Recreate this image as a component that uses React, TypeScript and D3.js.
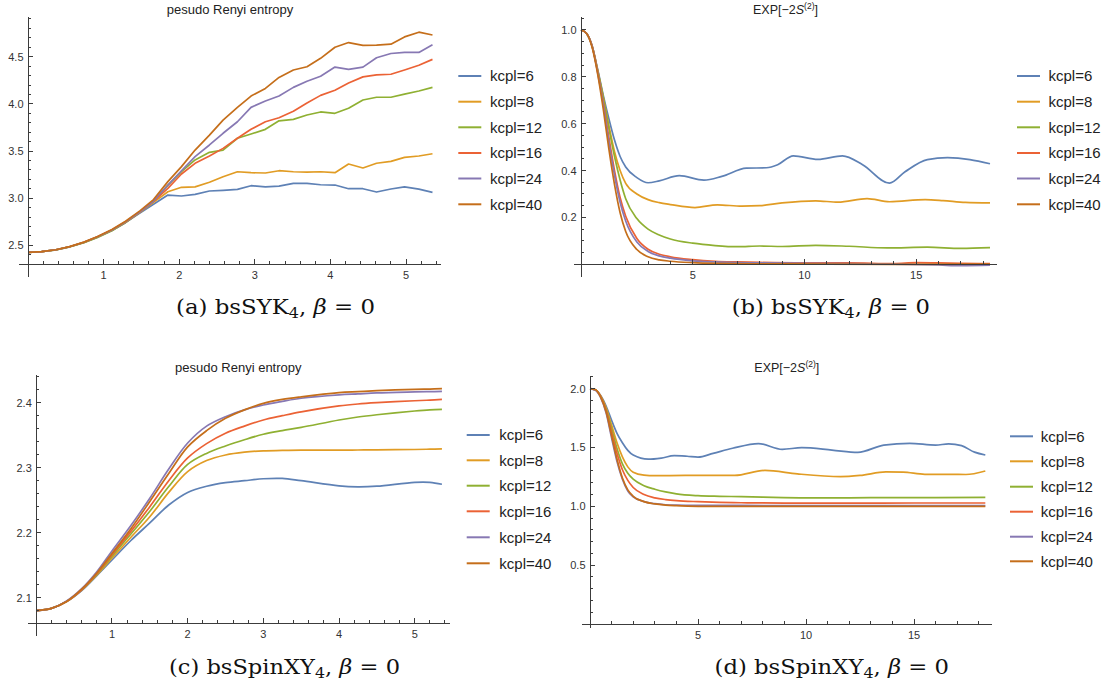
import React from "react";
import * as d3 from "d3";

type Pt = [number, number];

const COLORS = ["#5E81B5", "#E19C24", "#8FB032", "#EB6235", "#8778B3", "#C56E1A"];
const LABELS = ["kcpl=6", "kcpl=8", "kcpl=12", "kcpl=16", "kcpl=24", "kcpl=40"];

// ---------- Panel (a): pseudo Renyi entropy, bsSYK4 ----------
const aT = [0, 0.18, 0.37, 0.55, 0.74, 0.92, 1.11, 1.29, 1.48, 1.66, 1.85, 2.03, 2.21, 2.4, 2.58, 2.77, 2.95, 3.14, 3.32, 3.51, 3.69, 3.87, 4.06, 4.24, 4.43, 4.61, 4.8, 4.98, 5.17, 5.35];
const aK6 = [2.426, 2.432, 2.452, 2.484, 2.53, 2.587, 2.657, 2.74, 2.843, 2.935, 3.033, 3.023, 3.04, 3.076, 3.083, 3.093, 3.132, 3.12, 3.127, 3.156, 3.156, 3.142, 3.139, 3.1, 3.1, 3.065, 3.097, 3.12, 3.095, 3.062];
const aK8 = [2.426, 2.432, 2.453, 2.485, 2.531, 2.588, 2.659, 2.744, 2.85, 2.955, 3.068, 3.115, 3.12, 3.168, 3.227, 3.28, 3.27, 3.267, 3.291, 3.28, 3.277, 3.28, 3.27, 3.362, 3.32, 3.37, 3.39, 3.433, 3.447, 3.471];
const aK12 = [2.426, 2.432, 2.452, 2.483, 2.528, 2.584, 2.655, 2.742, 2.85, 2.966, 3.135, 3.281, 3.405, 3.486, 3.51, 3.635, 3.68, 3.73, 3.82, 3.836, 3.882, 3.914, 3.9, 3.953, 4.041, 4.07, 4.07, 4.104, 4.136, 4.175];
const aK16 = [2.426, 2.432, 2.453, 2.485, 2.532, 2.59, 2.662, 2.747, 2.853, 2.966, 3.104, 3.256, 3.369, 3.447, 3.528, 3.635, 3.73, 3.81, 3.853, 3.922, 4.01, 4.09, 4.145, 4.222, 4.286, 4.307, 4.314, 4.359, 4.409, 4.472];
const aK24 = [2.426, 2.432, 2.453, 2.485, 2.532, 2.59, 2.663, 2.749, 2.856, 2.97, 3.139, 3.291, 3.44, 3.564, 3.688, 3.81, 3.963, 4.03, 4.083, 4.175, 4.24, 4.293, 4.39, 4.366, 4.39, 4.489, 4.534, 4.545, 4.545, 4.626];
const aK40 = [2.426, 2.432, 2.453, 2.486, 2.534, 2.593, 2.667, 2.755, 2.865, 2.985, 3.175, 3.334, 3.51, 3.668, 3.828, 3.963, 4.083, 4.164, 4.28, 4.359, 4.394, 4.483, 4.6, 4.65, 4.62, 4.622, 4.633, 4.71, 4.76, 4.73];

// ---------- Panel (b): EXP[-2S(2)], bsSYK4 ----------
const bK6: Pt[] = [[0, 1], [0.25, 0.985], [0.5, 0.93], [0.75, 0.83], [1.0, 0.72], [1.25, 0.62], [1.5, 0.53], [1.75, 0.46], [2.0, 0.415], [2.5, 0.37], [3.0, 0.348], [3.5, 0.356], [4.4, 0.378], [5.5, 0.359], [6.3, 0.375], [7.4, 0.41], [8.3, 0.412], [8.8, 0.425], [9.5, 0.463], [10.6, 0.448], [11.7, 0.463], [12.6, 0.425], [13.8, 0.346], [14.5, 0.395], [15.5, 0.447], [16.4, 0.455], [17.4, 0.447], [18.3, 0.429]];
const bK8: Pt[] = [[0, 1], [0.25, 0.985], [0.5, 0.93], [0.75, 0.825], [1.0, 0.71], [1.25, 0.59], [1.5, 0.48], [1.75, 0.4], [2.0, 0.345], [2.5, 0.3], [3.0, 0.276], [3.5, 0.263], [4.0, 0.255], [5.1, 0.242], [6.1, 0.254], [7.2, 0.248], [8.0, 0.25], [9.0, 0.262], [10.5, 0.271], [11.5, 0.265], [12.8, 0.28], [13.8, 0.267], [15.4, 0.276], [16.2, 0.272], [17.2, 0.264], [18.3, 0.262]];
const bK12: Pt[] = [[0, 1], [0.25, 0.985], [0.5, 0.93], [0.75, 0.825], [1.0, 0.71], [1.25, 0.58], [1.5, 0.46], [1.75, 0.36], [2.0, 0.28], [2.5, 0.195], [3.0, 0.15], [3.5, 0.125], [4.0, 0.108], [5.0, 0.09], [6.0, 0.08], [7.0, 0.075], [8.0, 0.078], [9.0, 0.076], [10.5, 0.081], [12.0, 0.077], [13.7, 0.07], [15.5, 0.073], [17.0, 0.068], [18.3, 0.071]];
const bK16: Pt[] = [[0, 1], [0.25, 0.985], [0.5, 0.93], [0.75, 0.82], [1.0, 0.69], [1.25, 0.54], [1.5, 0.4], [1.75, 0.285], [2.0, 0.205], [2.5, 0.11], [3.0, 0.064], [3.5, 0.043], [4.0, 0.032], [5.0, 0.02], [6.0, 0.013], [7.0, 0.01], [8.0, 0.008], [10, 0.006], [12, 0.006], [14, 0.003], [15, 0.007], [16, 0.006], [17, 0.004], [18.3, 0.003]];
const bK24: Pt[] = [[0, 1], [0.25, 0.985], [0.5, 0.93], [0.75, 0.815], [1.0, 0.68], [1.25, 0.52], [1.5, 0.38], [1.75, 0.265], [2.0, 0.185], [2.5, 0.095], [3.0, 0.055], [3.5, 0.036], [4.0, 0.026], [5.0, 0.015], [6, 0.01], [7, 0.007], [8, 0.006], [10, 0.004], [12, 0.003], [14, 0.001], [16, -0.003], [17, -0.006], [18.3, -0.004]];
const bK40: Pt[] = [[0, 1], [0.25, 0.985], [0.5, 0.925], [0.75, 0.81], [1.0, 0.66], [1.25, 0.49], [1.5, 0.34], [1.75, 0.22], [2.0, 0.14], [2.5, 0.063], [3.0, 0.032], [3.5, 0.019], [4.0, 0.013], [5.0, 0.007], [6, 0.004], [8, 0.002], [11, 0.001], [14, 0.0], [18.3, 0.001]];

// ---------- Panel (c): pseudo Renyi entropy, bsSpinXY4 ----------
const cT = [0, 0.2, 0.4, 0.6, 0.8, 1.0, 1.25, 1.5, 1.75, 2.0, 2.25, 2.5, 2.75, 3.0, 3.25, 3.5, 4.0, 4.25, 4.5, 5.0, 5.2, 5.36];
const cK6 = [2.08, 2.0835, 2.094, 2.111, 2.134, 2.158, 2.188, 2.215, 2.2426, 2.262, 2.2715, 2.277, 2.28, 2.283, 2.2835, 2.28, 2.272, 2.2705, 2.2715, 2.2775, 2.2775, 2.2745];
const cK8 = [2.08, 2.0835, 2.094, 2.112, 2.135, 2.161, 2.193, 2.2246, 2.262, 2.294, 2.311, 2.3196, 2.324, 2.326, 2.3265, 2.327, 2.327, 2.3272, 2.3275, 2.328, 2.3285, 2.329];
const cK12 = [2.08, 2.0835, 2.094, 2.112, 2.136, 2.164, 2.198, 2.233, 2.271, 2.305, 2.322, 2.3334, 2.343, 2.3514, 2.357, 2.362, 2.3734, 2.378, 2.3815, 2.3872, 2.389, 2.3898];
const cK16 = [2.08, 2.0835, 2.094, 2.112, 2.137, 2.166, 2.202, 2.24, 2.28, 2.315, 2.337, 2.353, 2.364, 2.3734, 2.38, 2.386, 2.395, 2.398, 2.4, 2.403, 2.404, 2.405];
const cK24 = [2.08, 2.0835, 2.095, 2.114, 2.14, 2.172, 2.211, 2.253, 2.298, 2.338, 2.364, 2.3785, 2.389, 2.3965, 2.402, 2.4068, 2.412, 2.4135, 2.415, 2.4165, 2.417, 2.4175];
const cK40 = [2.08, 2.0835, 2.094, 2.113, 2.138, 2.168, 2.206, 2.248, 2.291, 2.332, 2.357, 2.376, 2.389, 2.399, 2.405, 2.409, 2.4154, 2.417, 2.4185, 2.4206, 2.421, 2.4215];

// ---------- Panel (d): EXP[-2S(2)], bsSpinXY4 ----------
const dK6: Pt[] = [[0, 2.0], [0.25, 1.99], [0.5, 1.94], [0.75, 1.85], [1.0, 1.73], [1.25, 1.62], [1.5, 1.54], [1.75, 1.475], [2.0, 1.435], [2.7, 1.4], [3.3, 1.41], [3.9, 1.43], [4.5, 1.425], [5.0, 1.418], [5.7, 1.45], [6.6, 1.493], [7.8, 1.533], [8.9, 1.484], [9.8, 1.498], [11.2, 1.478], [12.4, 1.458], [13.6, 1.52], [14.8, 1.535], [16.0, 1.52], [16.6, 1.53], [17.2, 1.515], [17.8, 1.46], [18.3, 1.436]];
const dK8: Pt[] = [[0, 2.0], [0.25, 1.99], [0.5, 1.935], [0.75, 1.835], [1.0, 1.69], [1.25, 1.54], [1.5, 1.42], [1.75, 1.335], [2.0, 1.29], [2.5, 1.265], [3.0, 1.26], [4.4, 1.262], [5.5, 1.262], [6.7, 1.262], [8.1, 1.305], [9.6, 1.275], [11.6, 1.252], [12.5, 1.262], [13.7, 1.292], [14.5, 1.29], [15.5, 1.272], [16.7, 1.272], [17.4, 1.27], [18.3, 1.3]];
const dK12: Pt[] = [[0, 2.0], [0.25, 1.99], [0.5, 1.93], [0.75, 1.82], [1.0, 1.66], [1.25, 1.49], [1.5, 1.36], [1.75, 1.28], [2.0, 1.23], [2.5, 1.175], [3.0, 1.145], [3.5, 1.122], [4.0, 1.105], [5.0, 1.09], [6.0, 1.085], [7.0, 1.082], [8.0, 1.078], [10, 1.072], [12, 1.072], [14, 1.074], [16, 1.074], [18.3, 1.075]];
const dK16: Pt[] = [[0, 2.0], [0.25, 1.99], [0.5, 1.93], [0.75, 1.81], [1.0, 1.63], [1.25, 1.45], [1.5, 1.31], [1.75, 1.22], [2.0, 1.16], [2.5, 1.1], [3.0, 1.072], [3.5, 1.057], [4.0, 1.048], [5.0, 1.039], [6.0, 1.033], [7.0, 1.03], [9.0, 1.027], [12, 1.027], [15, 1.028], [18.3, 1.028]];
const dK24: Pt[] = [[0, 2.0], [0.25, 1.985], [0.5, 1.92], [0.75, 1.79], [1.0, 1.58], [1.25, 1.38], [1.5, 1.23], [1.75, 1.13], [2.0, 1.08], [2.5, 1.04], [3.0, 1.022], [3.5, 1.013], [4.0, 1.01], [5.0, 1.008], [7, 1.007], [10, 1.006], [14, 1.006], [18.3, 1.006]];
const dK40: Pt[] = [[0, 2.0], [0.25, 1.99], [0.5, 1.925], [0.75, 1.8], [1.0, 1.6], [1.25, 1.4], [1.5, 1.24], [1.75, 1.14], [2.0, 1.085], [2.5, 1.04], [3.0, 1.02], [3.5, 1.01], [4.0, 1.005], [5.0, 1.0], [7, 0.999], [10, 0.999], [14, 1.0], [18.3, 1.0]];

// ticks
const aXTicks = [1, 2, 3, 4, 5];
const aYTicks = [2.5, 3.0, 3.5, 4.0, 4.5];
const bXTicks = [5, 10, 15];
const bYTicks = [0.2, 0.4, 0.6, 0.8, 1.0];
const cYTicks = [2.1, 2.2, 2.3, 2.4];
const dYTicks = [0.5, 1.0, 1.5, 2.0];

const zip = (t: number[], v: number[]): Pt[] => t.map((x, i) => [x, v[i]] as Pt);

type Title = "renyi" | "exp";
type CurveKind = "linear" | "monotone" | "catmull";

interface PanelCfg {
  xDomain: [number, number];
  xRange: [number, number];
  yDomain: [number, number];
  yRange: [number, number];
  xTicks: number[];
  yTicks: number[];
  xMinor: number;
  yMinor: number;
  xExt: number;
  yExt: number;
  series: Pt[][];
  curve: CurveKind;
  title: Title;
  titleX: number;
  titleY: number;
  legendLineX: number;
  legendTextX: number;
  legendY: number[];
  caption: { x: number; y: number; w: number; tag: string; name: string };
}

const panels: PanelCfg[] = [
  {
    xDomain: [0, 5.46], xRange: [28, 440.8], yDomain: [2.2985, 4.918], yRange: [264.3, 17.3],
    xTicks: aXTicks, yTicks: aYTicks, xMinor: 0.2, yMinor: 0.1, xExt: 9, yExt: 12.5,
    series: [aK6, aK8, aK12, aK16, aK24, aK40].map((v) => zip(aT, v)), curve: "linear",
    title: "renyi", titleX: 230, titleY: 13.5,
    legendLineX: 458.3, legendTextX: 490, legendY: [76, 101.7, 127.3, 153, 178.5, 204.3],
    caption: { x: 176, y: 314, w: 199, tag: "(a)", name: "bsSYK" },
  },
  {
    xDomain: [0, 18.6], xRange: [581, 996.7], yDomain: [0, 1.054], yRange: [264.3, 17.3],
    xTicks: bXTicks, yTicks: bYTicks, xMinor: 1, yMinor: 0.05, xExt: 7, yExt: 12.5,
    series: [bK6, bK8, bK12, bK16, bK24, bK40], curve: "monotone",
    title: "exp", titleX: 785.5, titleY: 13.5,
    legendLineX: 1017, legendTextX: 1048.5, legendY: [76, 101.7, 127.3, 153, 178.5, 204.3],
    caption: { x: 731.7, y: 314, w: 198.3, tag: "(b)", name: "bsSYK" },
  },
  {
    xDomain: [0, 5.46], xRange: [36.3, 449.5], yDomain: [2.0606, 2.442], yRange: [623.3, 375.4],
    xTicks: aXTicks, yTicks: cYTicks, xMinor: 0.2, yMinor: 0.02, xExt: 8, yExt: 12.7,
    series: [cK6, cK8, cK12, cK16, cK24, cK40].map((v) => zip(cT, v)), curve: "catmull",
    title: "renyi", titleX: 238.3, titleY: 372,
    legendLineX: 466.7, legendTextX: 499.3, legendY: [435, 460.3, 485.7, 511.3, 537.3, 563.3],
    caption: { x: 169, y: 674, w: 231, tag: "(c)", name: "bsSpinXY" },
  },
  {
    xDomain: [0, 18.6], xRange: [590, 991.8], yDomain: [0, 2.107], yRange: [624, 376],
    xTicks: bXTicks, yTicks: dYTicks, xMinor: 1, yMinor: 0.1, xExt: 8.4, yExt: 4,
    series: [dK6, dK8, dK12, dK16, dK24, dK40], curve: "monotone",
    title: "exp", titleX: 786.8, titleY: 372,
    legendLineX: 1010, legendTextX: 1040.8, legendY: [436.3, 461.3, 486.7, 511.7, 536.7, 561.3],
    caption: { x: 714.6, y: 674, w: 234.4, tag: "(d)", name: "bsSpinXY" },
  },
];

const SANS = "'Liberation Sans', Arial, Helvetica, sans-serif";
const SERIF = "'DejaVu Serif', 'Liberation Serif', serif";
const AXIS = "#3c3c3c";

function minorTicks(domain: [number, number], step: number, majors: number[]): number[] {
  const start = Math.ceil(domain[0] / step - 1e-9);
  const end = Math.floor(domain[1] / step + 1e-9);
  const out: number[] = [];
  for (let k = start; k <= end; k++) {
    const v = +(k * step).toFixed(6);
    if (v === 0) continue;
    if (majors.some((m) => Math.abs(m - v) < 1e-6)) continue;
    out.push(v);
  }
  return out;
}

function curveFactory(kind: CurveKind) {
  if (kind === "linear") return d3.curveLinear;
  if (kind === "catmull") return d3.curveCatmullRom.alpha(0.5);
  return d3.curveMonotoneX;
}

function Panel({ p }: { p: PanelCfg }) {
  const x = d3.scaleLinear().domain(p.xDomain).range(p.xRange);
  const y = d3.scaleLinear().domain(p.yDomain).range(p.yRange);
  const x0 = x(0);
  const yb = y(p.yDomain[0]);
  const line = d3
    .line<Pt>()
    .x((d) => x(d[0]))
    .y((d) => y(d[1]))
    .curve(curveFactory(p.curve));
  const xMin = minorTicks(p.xDomain, p.xMinor, p.xTicks);
  const yMin = minorTicks(p.yDomain, p.yMinor, p.yTicks);
  const fmtY = d3.format(".1f");
  const fmtX = d3.format("d");

  return (
    <g>
      {/* series */}
      <g fill="none" strokeWidth={1.7} strokeLinejoin="round">
        {p.series.map((s, i) => (
          <path key={i} d={line(s) || ""} stroke={COLORS[i]} />
        ))}
      </g>
      {/* axes */}
      <g stroke={AXIS} strokeWidth={1} shapeRendering="crispEdges">
        <line x1={x0 - p.xExt} x2={p.xRange[1]} y1={yb} y2={yb} />
        <line x1={x0} x2={x0} y1={p.yRange[1]} y2={yb + p.yExt} />
        {p.xTicks.map((t) => (
          <line key={"xm" + t} x1={x(t)} x2={x(t)} y1={yb} y2={yb - 5} />
        ))}
        {xMin.map((t) => (
          <line key={"xn" + t} x1={x(t)} x2={x(t)} y1={yb} y2={yb - 3} />
        ))}
        {p.yTicks.map((t) => (
          <line key={"ym" + t} x1={x0} x2={x0 + 5} y1={y(t)} y2={y(t)} />
        ))}
        {yMin.map((t) => (
          <line key={"yn" + t} x1={x0} x2={x0 + 3} y1={y(t)} y2={y(t)} />
        ))}
      </g>
      {/* tick labels */}
      <g fontFamily={SANS} fontSize={11} fill="#333">
        {p.xTicks.map((t) => (
          <text key={"xl" + t} x={x(t)} y={yb + 15} textAnchor="middle">
            {fmtX(t)}
          </text>
        ))}
        {p.yTicks.map((t) => (
          <text key={"yl" + t} x={x0 - 4.5} y={y(t) + 4} textAnchor="end">
            {fmtY(t)}
          </text>
        ))}
      </g>
      {/* title */}
      {p.title === "renyi" ? (
        <text x={p.titleX} y={p.titleY} textAnchor="middle" fontFamily={SANS} fontSize={13} fill="#222">
          pesudo Renyi entropy
        </text>
      ) : (
        <text x={p.titleX} y={p.titleY} textAnchor="middle" fontFamily={SANS} fontSize={12.5} fill="#222">
          EXP[−2<tspan fontStyle="italic">S</tspan>
          <tspan dy={-5} fontSize={8.5}>(2)</tspan>
          <tspan dy={5}>]</tspan>
        </text>
      )}
      {/* legend */}
      <g fontFamily={SANS} fontSize={15} fill="#222">
        {LABELS.map((lab, i) => (
          <g key={lab}>
            <line
              x1={p.legendLineX}
              x2={p.legendLineX + 23}
              y1={p.legendY[i]}
              y2={p.legendY[i]}
              stroke={COLORS[i]}
              strokeWidth={2}
            />
            <text x={p.legendTextX} y={p.legendY[i] + 5.3}>
              {lab}
            </text>
          </g>
        ))}
      </g>
      {/* caption */}
      <text
        x={p.caption.x}
        y={p.caption.y}
        fontFamily={SERIF}
        fontSize={20}
        fill="#111"
        textLength={p.caption.w}
        lengthAdjust="spacingAndGlyphs"
      >
        {p.caption.tag + " " + p.caption.name}
        <tspan dy={4} fontSize={14}>4</tspan>
        <tspan dy={-4}>, </tspan>
        <tspan fontStyle="italic">β</tspan>
        <tspan> = 0</tspan>
      </text>
    </g>
  );
}

export default function App() {
  return (
    <svg
      width={1105}
      height={688}
      viewBox="0 0 1105 688"
      style={{ position: "absolute", left: 0, top: 0, background: "#fff" }}
    >
      <rect x={0} y={0} width={1105} height={688} fill="#fff" />
      {panels.map((p, i) => (
        <Panel key={i} p={p} />
      ))}
    </svg>
  );
}
